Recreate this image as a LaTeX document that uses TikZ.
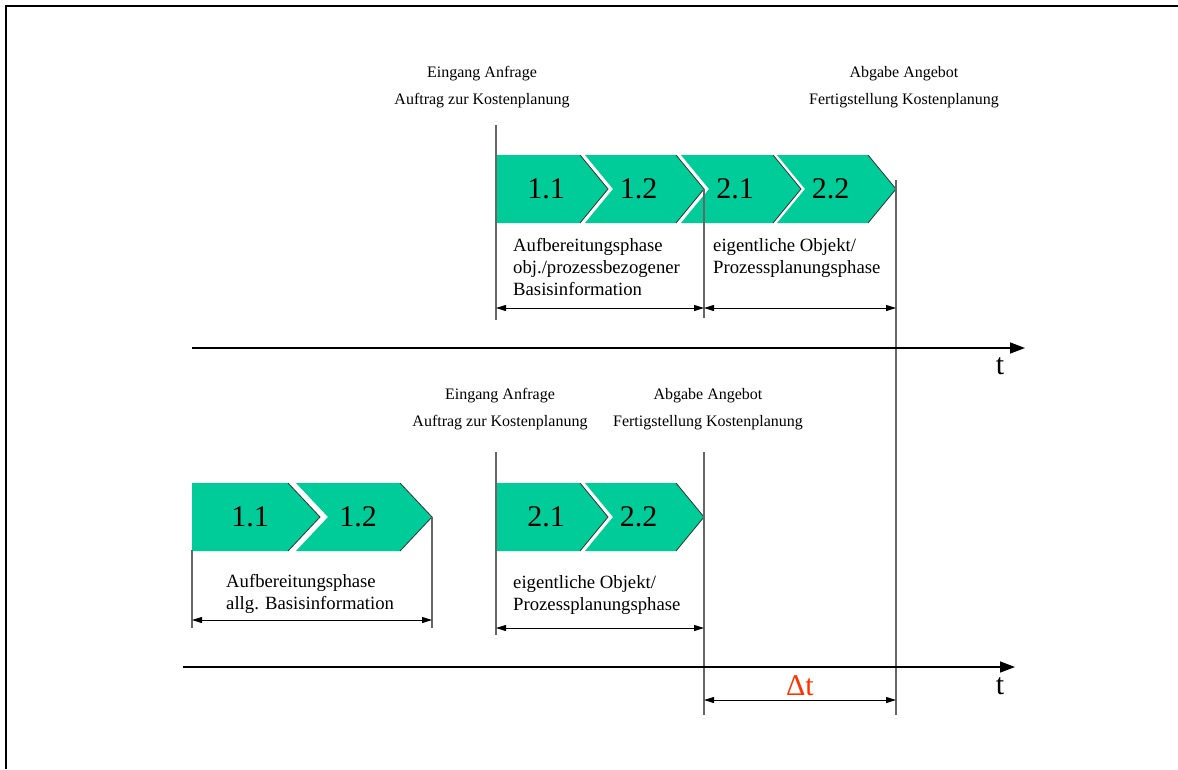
\documentclass[tikz,border=0pt]{standalone}
\usepackage{fontspec}
\setmainfont{Liberation Serif}
\usetikzlibrary{arrows.meta}
\definecolor{phasegreen}{RGB}{0,204,153}
\definecolor{deltared}{RGB}{255,51,0}

% one phase arrow: name, mid y, left x, notch x, shoulder x, tip x, text
\newcommand{\phasearrow}[7]{%
  \fill[phasefill] (#3,#2-34) -- (#5,#2-34) -- (#6,#2) -- (#5,#2+34) -- (#3,#2+34) -- (#4,#2) -- cycle;
  \draw[phaseedge] (#5,#2-34) -- (#6,#2) -- (#5,#2+34);
  \node[phasenum] (#1) at ({(#3+#6)/2-6},#2) {#7};
}

\begin{document}
\begin{tikzpicture}[
  x=1pt, y=-1pt,
  phasefill/.style={fill=phasegreen},
  phaseedge/.style={draw=black!80, line width=0.8pt},
  phasenum/.style={inner sep=0pt, font=\fontsize{30}{30}\selectfont},
  marker/.style={draw=black!60, line width=1.3pt},
  dim/.style={line width=1pt, {Triangle[length=10pt,width=6pt]}-{Triangle[length=10pt,width=6pt]}},
  axis/.style={line width=1.5pt, -{Triangle[length=15pt,width=11pt]}},
  small/.style={inner sep=0pt, align=center, font=\fontsize{16}{27}\selectfont},
  phasetext/.style={inner sep=0pt, align=left, anchor=north west, font=\fontsize{18.7}{22}\selectfont},
  tlabel/.style={inner sep=0pt, font=\fontsize{30}{30}\selectfont}
]
\useasboundingbox (0,0) rectangle (1178,769);

% frame
\draw[line width=2pt] (6,769) -- (6,6) -- (1178,6);

% upper time line
\phasearrow{p11a}{189}{496}{496}{580}{608}{1.1}
\phasearrow{p12a}{189}{585}{613}{676}{704}{1.2}
\phasearrow{p21a}{189}{681}{709}{773}{801}{2.1}
\phasearrow{p22a}{189}{777}{805}{868}{896}{2.2}

\coordinate (u1) at (496,125);  \coordinate (u1e) at (496,320);
\coordinate (u2) at (704,189);  \coordinate (u2e) at (704,318);
\coordinate (u3) at (896,180);  \coordinate (u3e) at (896,715);
\draw[marker] (u1) -- (u1e);
\draw[marker] (u2) -- (u2e);
\draw[marker] (u3) -- (u3e);

\node[small] (inA) at (482,87) {Eingang Anfrage\\Auftrag zur Kostenplanung};
\node[small] (outA) at (904,87) {Abgabe Angebot\\Fertigstellung Kostenplanung};

\node[phasetext] (prepA) at (513,238) {Aufbereitungsphase\\obj./prozessbezogener\\Basisinformation};
\node[phasetext] (planA) at (713,238) {eigentliche Objekt/\\Prozessplanungsphase};

\draw[dim] (u1 |- 0,308) -- (u2 |- 0,308);
\draw[dim] (u2 |- 0,308) -- (u3 |- 0,308);

\coordinate (axA) at (192,348); \coordinate (axAe) at (1025,348);
\draw[axis] (axA) -- (axAe);
\node[tlabel] (tA) at (1000,366) {t};

% lower time line
\phasearrow{p11b}{517}{192}{192}{288}{320}{1.1}
\phasearrow{p12b}{517}{296}{328}{400}{432}{1.2}
\phasearrow{p21b}{517}{496}{496}{580}{608}{2.1}
\phasearrow{p22b}{517}{585}{613}{676}{704}{2.2}

\coordinate (l0) at (192,550); \coordinate (l0e) at (192,628);
\coordinate (l1) at (432,517); \coordinate (l1e) at (432,628);
\coordinate (l2) at (496,452); \coordinate (l2e) at (496,635);
\coordinate (l3) at (704,452); \coordinate (l3e) at (704,715);
\draw[marker] (l0) -- (l0e);
\draw[marker] (l1) -- (l1e);
\draw[marker] (l2) -- (l2e);
\draw[marker] (l3) -- (l3e);

\node[small] (inB) at (500,409) {Eingang Anfrage\\Auftrag zur Kostenplanung};
\node[small] (outB) at (708,409) {Abgabe Angebot\\Fertigstellung Kostenplanung};

\node[phasetext] (prepB) at (226,574) {Aufbereitungsphase\\allg. Basisinformation};
\node[phasetext] (planB) at (513,575) {eigentliche Objekt/\\Prozessplanungsphase};

\draw[dim] (l0 |- 0,620) -- (l1 |- 0,620);
\draw[dim] (l2 |- 0,628) -- (l3 |- 0,628);

\coordinate (axB) at (183,667); \coordinate (axBe) at (1015,667);
\draw[axis] (axB) -- (axBe);
\node[tlabel] (tB) at (1000,686) {t};

% shift between both
\draw[dim] (l3 |- 0,700) -- (u3 |- 0,700);
\node[tlabel, text=deltared] (dt) at (800,686) {Δt};
\end{tikzpicture}
\end{document}
